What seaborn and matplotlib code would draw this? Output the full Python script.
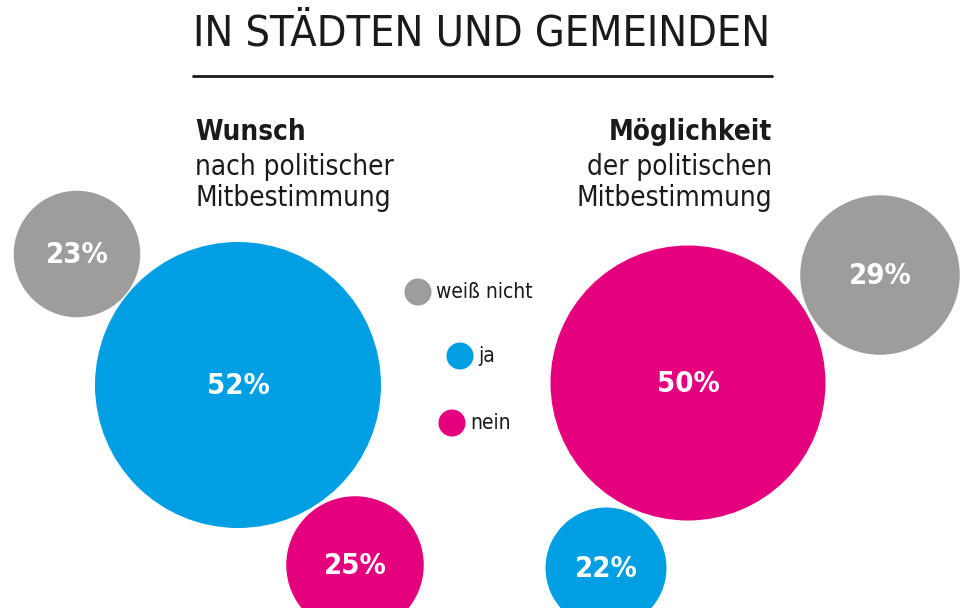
import matplotlib
matplotlib.use('Agg')
import matplotlib.pyplot as plt
from matplotlib import font_manager
from matplotlib.patches import Circle
import seaborn as sns
import pandas as pd

# Daten
antworten = ['weiß nicht', 'ja', 'nein']
wunsch = [23, 52, 25]
moeglichkeit = [29, 22, 50]
farben = {'weiß nicht': '#9d9d9c', 'ja': '#009fe3', 'nein': '#e5007e'}

# Layout (Pixel, y nach unten)
wunsch_pos = [(77, 254), (238, 385), (355, 565)]
moeglich_pos = [(880, 275), (606, 568), (688, 383)]
px_pro_prozent = 2.75
legende_pos = [(418, 292), (460, 356), (452, 423)]

sns.set_theme(style="white")

namen = {f.name for f in font_manager.fontManager.ttflist}
if 'Liberation Sans Narrow' in namen:
    schrift = dict(family=['Liberation Sans Narrow', 'DejaVu Sans'])
else:
    schrift = dict(family=['DejaVu Sans'], stretch='condensed')

fig = plt.figure(figsize=(9.74, 6.08), dpi=100)
ax = fig.add_axes([0, 0, 1, 1])

df = pd.DataFrame({
    'antwort': antworten * 2,
    'wert': wunsch + moeglichkeit,
    'x': [p[0] for p in wunsch_pos + moeglich_pos],
    'y': [p[1] for p in wunsch_pos + moeglich_pos],
})

for _, r in df.iterrows():
    ax.add_patch(Circle((r['x'], r['y']), r['wert'] * px_pro_prozent,
                        color=farben[r['antwort']], lw=0))
    ax.text(r['x'], r['y'] + 1, f"{r['wert']}%", color='white', fontsize=21,
            fontweight='bold', ha='center', va='center', **schrift)

# Legende
leg = pd.DataFrame({'antwort': antworten,
                    'x': [p[0] for p in legende_pos],
                    'y': [p[1] for p in legende_pos]})
sns.scatterplot(data=leg, x='x', y='y', hue='antwort', palette=farben,
                s=380, linewidth=0, legend=False, ax=ax)
for _, r in leg.iterrows():
    ax.text(r['x'] + 18, r['y'], r['antwort'], fontsize=15, color='#1a1a1a',
            ha='left', va='center', **schrift)
ax.set_xlim(0, 974)
ax.set_ylim(608, 0)
ax.set_axis_off()

# Titel
ax.text(482, 34, 'IN STÄDTEN UND GEMEINDEN', fontsize=31, color='#1a1a1a',
        ha='center', va='center', **schrift)
ax.plot([193, 772], [76, 76], color='#1a1a1a', lw=2)

# Untertitel
ax.text(195, 140, 'Wunsch', fontsize=20, fontweight='bold', color='#1a1a1a',
        ha='left', va='baseline', **schrift)
ax.text(195, 206, 'nach politischer\nMitbestimmung', fontsize=20, color='#1a1a1a',
        ha='left', va='baseline', linespacing=1.15, **schrift)
ax.text(772, 140, 'Möglichkeit', fontsize=20, fontweight='bold', color='#1a1a1a',
        ha='right', va='baseline', **schrift)
ax.text(772, 206, 'der politischen\nMitbestimmung', fontsize=20, color='#1a1a1a',
        ha='right', va='baseline', multialignment='right', linespacing=1.15, **schrift)

fig.savefig('out.png', dpi=100)
plt.close(fig)
